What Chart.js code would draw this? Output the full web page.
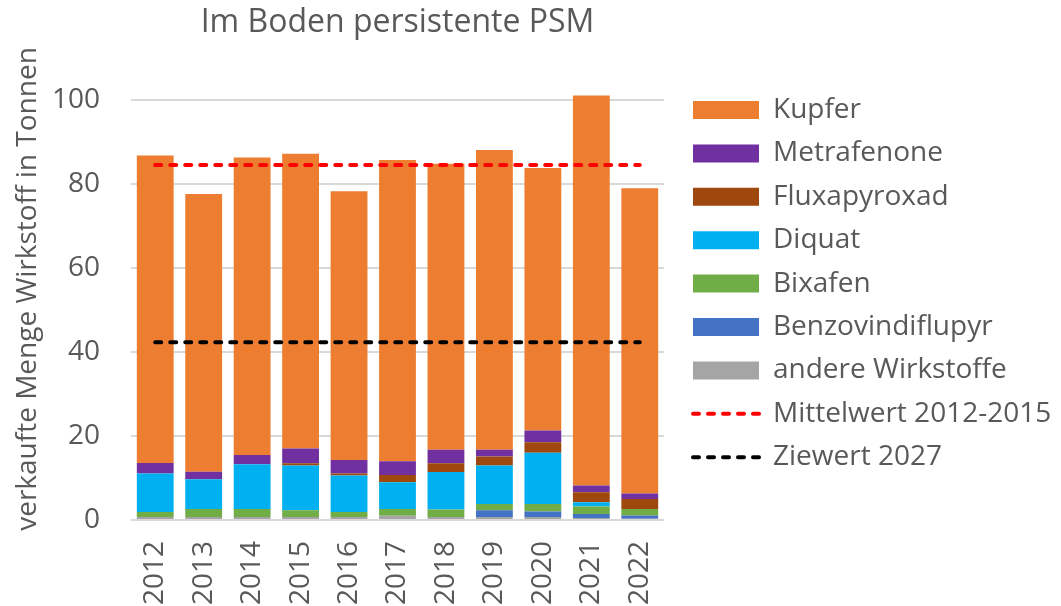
<!DOCTYPE html>
<html>
<head>
<meta charset="utf-8">
<script src="https://cdn.jsdelivr.net/npm/chart.js@4.4.1/dist/chart.umd.min.js"></script>
<style>
  html, body { margin: 0; padding: 0; background: #ffffff; }
  #wrap { width: 1061px; height: 606px; position: relative; }
</style>
</head>
<body>
<div id="wrap"><canvas id="c"></canvas></div>
<script>
const years = ['2012','2013','2014','2015','2016','2017','2018','2019','2020','2021','2022'];
// stacked segments, bottom to top (tonnes)
const andere   = [0.7, 0.7, 0.7, 0.7, 0.7, 1.0, 0.7, 0.7, 0.7, 0.5, 0.3];
const benzo    = [0,   0,   0,   0,   0,   0,   0,   1.6, 1.3, 0.9, 0.8];
const bixafen  = [1.2, 1.9, 1.9, 1.6, 1.2, 1.6, 1.8, 1.5, 1.8, 1.8, 1.5];
const diquat   = [9.2, 7.1, 10.7, 10.7, 8.7, 6.4, 8.9, 9.2, 12.2, 1.0, 0];
const flux     = [0,   0,   0,   0.5, 0.5, 1.7, 2.1, 2.1, 2.5, 2.4, 2.4];
const metra    = [2.5, 1.8, 2.2, 3.5, 3.2, 3.3, 3.2, 1.6, 2.8, 1.6, 1.3];
const kupfer   = [73.2, 66.1, 70.8, 70.2, 64.0, 71.7, 68.1, 71.4, 62.5, 92.9, 72.7];
const mittelwert = [84.5, 84.5, 84.5, 84.5, 84.5, 84.5, 84.5, 84.5, 84.5, 84.5, 84.5];
const zielwert   = [42.3, 42.3, 42.3, 42.3, 42.3, 42.3, 42.3, 42.3, 42.3, 42.3, 42.3];
const yTicks = [0, 20, 40, 60, 80, 100];

const FONT = '"Open Sans", "Noto Sans", sans-serif';
const TXT = '#595959';
const legendOrder = ['Kupfer','Metrafenone','Fluxapyroxad','Diquat','Bixafen','Benzovindiflupyr','andere Wirkstoffe','Mittelwert 2012-2015','Ziewert 2027'];

// measure the widest legend text to place the legend
const mctx = document.createElement('canvas').getContext('2d');
mctx.font = '28px ' + FONT;
const widest = Math.max(...legendOrder.map(t => mctx.measureText(t).width));
const LPAD = 15.4, BOXW = 66;
const legendWidth = LPAD + BOXW + 14 + widest + 10;
const padRight = 1061 - (693 - LPAD) - legendWidth;

function bar(label, data, color) {
  return { type: 'bar', label, data, backgroundColor: color, borderWidth: 0,
           pointStyle: 'rect', order: 1, stack: 'bars',
           barPercentage: 0.76, categoryPercentage: 1.0 };
}
function line(label, data, color, stack) {
  return { type: 'line', label, data, borderColor: color, backgroundColor: color,
           borderWidth: 4, borderDash: [6, 9], borderCapStyle: 'round',
           pointRadius: 0, pointHoverRadius: 0, pointStyle: 'line',
           fill: false, order: 0, stack };
}

new Chart(document.getElementById('c'), {
  data: {
    labels: years,
    datasets: [
      bar('andere Wirkstoffe', andere, '#A5A5A5'),
      bar('Benzovindiflupyr', benzo, '#4472C4'),
      bar('Bixafen', bixafen, '#70AD47'),
      bar('Diquat', diquat, '#00B0F0'),
      bar('Fluxapyroxad', flux, '#9E480E'),
      bar('Metrafenone', metra, '#7030A0'),
      bar('Kupfer', kupfer, '#ED7D31'),
      line('Mittelwert 2012-2015', mittelwert, '#FF0000', 'mw'),
      line('Ziewert 2027', zielwert, '#000000', 'zw')
    ]
  },
  options: {
    responsive: true,
    maintainAspectRatio: false,
    animation: false,
    layout: { padding: { left: 0, right: padRight, top: 0, bottom: 0 } },
    plugins: {
      tooltip: { enabled: false },
      title: {
        display: true,
        text: 'Im Boden persistente PSM',
        color: TXT,
        fullSize: false,
        font: { family: FONT, size: 32, weight: 'normal' },
        padding: { top: 4, bottom: 15.6 }
      },
      legend: {
        position: 'right',
        align: 'start',
        maxWidth: legendWidth + 2,
        title: { display: true, text: ' ', font: { size: 12 }, padding: { top: 33.1, bottom: 33.1 } },
        labels: {
          color: TXT,
          font: { family: FONT, size: 28 },
          usePointStyle: true,
          pointStyleWidth: BOXW,
          boxHeight: 18,
          padding: LPAD,
          sort: (a, b) => legendOrder.indexOf(a.text) - legendOrder.indexOf(b.text),
          generateLabels: chart => {
            const items = Chart.defaults.plugins.legend.labels.generateLabels(chart);
            items.forEach(it => {
              const ds = chart.data.datasets[it.datasetIndex];
              if (ds.type === 'line') {
                it.lineDash = ds.borderDash;
                it.lineCap = 'round';
                it.lineWidth = ds.borderWidth;
                it.strokeStyle = ds.borderColor;
              }
            });
            return items;
          }
        }
      }
    },
    scales: {
      x: {
        stacked: true,
        grid: { display: false },
        border: { display: false },
        ticks: { color: TXT, font: { family: FONT, size: 28 }, minRotation: 90, maxRotation: 90, padding: 13, autoSkip: false },
        afterFit: s => { s.height = 86; }
      },
      y: {
        stacked: true,
        min: 0,
        max: 110,
        grid: { color: '#D9D9D9', lineWidth: 2, drawTicks: false },
        border: { display: false },
        ticks: { color: TXT, font: { family: FONT, size: 28 }, padding: 31, stepSize: 20 },
        afterBuildTicks: s => { s.ticks = yTicks.map(v => ({ value: v })); },
        title: { display: true, text: 'verkaufte Menge Wirkstoff in Tonnen', color: TXT,
                 font: { family: FONT, size: 28 }, padding: { top: 11, bottom: 0 } },
        afterFit: s => { s.width = 131; }
      },
      y2: {
        position: 'right',
        display: true,
        grid: { display: false },
        border: { display: false },
        ticks: { display: false },
        afterFit: s => { s.width = 13.6; }
      }
    }
  }
});
</script>
</body>
</html>
